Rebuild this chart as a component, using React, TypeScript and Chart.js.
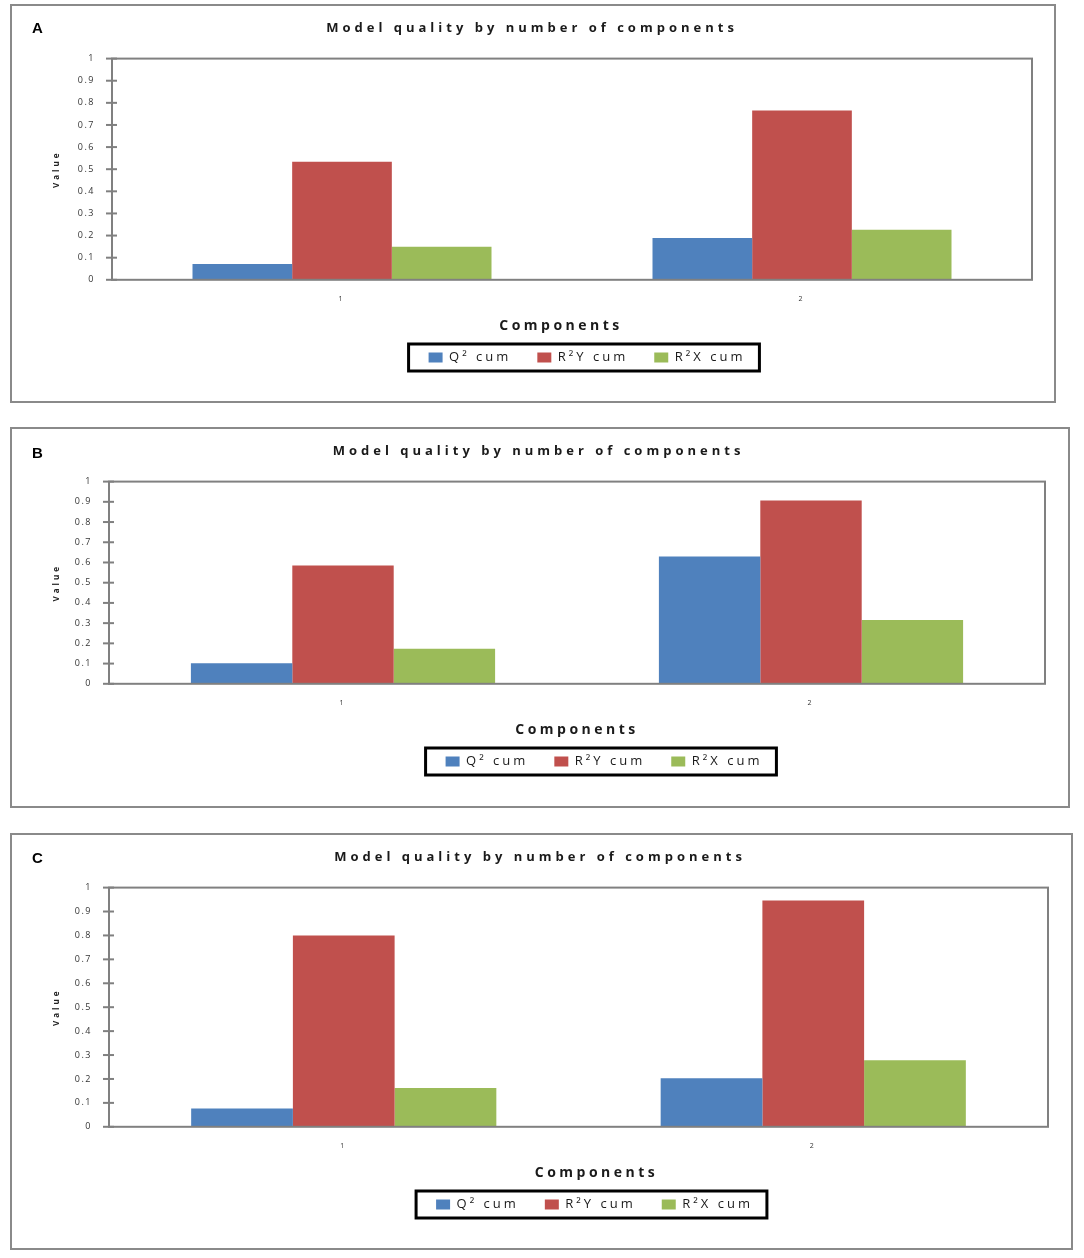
import { useEffect, useRef } from "react";
import { Chart, registerables } from "chart.js";

Chart.register(...registerables);

// categories and series
const components = ["1", "2"];
const seriesNames = ["Q² cum", "R²Y cum", "R²X cum"];
const seriesColors = ["#4F81BD", "#C0504D", "#9BBB59"];

// panel A
const q2CumA = [0.071, 0.189];
const r2yCumA = [0.534, 0.765];
const r2xCumA = [0.149, 0.226];
// panel B
const q2CumB = [0.102, 0.63];
const r2yCumB = [0.585, 0.906];
const r2xCumB = [0.173, 0.316];
// panel C
const q2CumC = [0.077, 0.203];
const r2yCumC = [0.8, 0.946];
const r2xCumC = [0.162, 0.278];

const yMin = 0;
const yMax = 1;
const yStep = 0.1;

const chartTitle = "Model quality by number of components";
const xTitle = "Components";
const yTitle = "Value";

const FONT = "'Open Sans', 'Liberation Sans', sans-serif";

type Panel = {
  letter: string;
  series: number[][];
  left: number;
  top: number;
  width: number;
  height: number;
  plotLeft: number;
  padRight: number;
  padBottom: number;
  letterTop: number;
  legendShift: number;
  xTitleShift: number;
};

const panels: Panel[] = [
  { letter: "A", series: [q2CumA, r2yCumA, r2xCumA], left: 10, top: 4, width: 1046, height: 399, plotLeft: 100, padRight: 22, padBottom: 27, letterTop: 19, legendShift: 15, xTitleShift: -11 },
  { letter: "B", series: [q2CumB, r2yCumB, r2xCumB], left: 10, top: 427, width: 1060, height: 381, plotLeft: 97, padRight: 23, padBottom: 28, letterTop: 444, legendShift: 27, xTitleShift: 0 },
  { letter: "C", series: [q2CumC, r2yCumC, r2xCumC], left: 10, top: 833, width: 1063, height: 417, plotLeft: 97, padRight: 23, padBottom: 27, letterTop: 849, legendShift: 16, xTitleShift: 18 },
];

function withSpacing(chart: any, obj: any, key: string, spacing: string, dx = 0) {
  const orig = obj[key];
  obj[key] = function (...args: any[]) {
    const c = chart.ctx;
    const prev = c.letterSpacing;
    c.save();
    c.translate(dx, 0);
    c.letterSpacing = spacing;
    const res = orig.apply(this, args);
    c.restore();
    c.letterSpacing = prev;
    return res;
  };
}

// letter spacing, plot frame, crossing y ticks, legend frame
const decorPlugin = {
  id: "decor",
  beforeLayout(chart: any) {
    chart.ctx.letterSpacing = "3px";
  },
  afterLayout(chart: any, _args: any, opts: any) {
    const tb = chart.titleBlock;
    if (tb && !tb.__ls) {
      withSpacing(chart, tb, "draw", "4px", 10);
      tb.__ls = true;
    }
    const xs = chart.scales.x;
    if (xs && !xs.__ls) {
      withSpacing(chart, xs, "drawTitle", "3.5px", opts.xTitleShift || 0);
      xs.__ls = true;
    }
    const ys = chart.scales.y;
    if (ys && !ys.__ls) {
      withSpacing(chart, ys, "drawLabels", "1.5px");
      ys.__ls = true;
    }
    const lg = chart.legend;
    const shift = opts.legendShift || 0;
    if (lg) {
      lg.left += shift;
      lg.right += shift;
    }
  },
  beforeDraw(chart: any) {
    chart.ctx.letterSpacing = "3px";
  },
  afterDatasetsDraw(chart: any) {
    const { ctx, chartArea: a, scales } = chart;
    ctx.save();
    ctx.strokeStyle = "#808080";
    ctx.lineWidth = 2;
    ctx.strokeRect(a.left, a.top, a.right - a.left, a.bottom - a.top);
    const y = scales.y;
    y.ticks.forEach((_: any, i: number) => {
      const py = y.getPixelForTick(i);
      ctx.beginPath();
      ctx.moveTo(a.left - 6, py);
      ctx.lineTo(a.left + 5, py);
      ctx.stroke();
    });
    ctx.restore();
  },
  afterDraw(chart: any) {
    const boxes = chart.legend?.legendHitBoxes;
    if (!boxes || !boxes.length) return;
    const l = Math.min(...boxes.map((b: any) => b.left));
    const r = Math.max(...boxes.map((b: any) => b.left + b.width));
    const t = Math.min(...boxes.map((b: any) => b.top));
    const btm = Math.max(...boxes.map((b: any) => b.top + b.height));
    const ctx = chart.ctx;
    ctx.save();
    ctx.strokeStyle = "#000";
    ctx.lineWidth = 3;
    ctx.strokeRect(l - 20, t - 7, r - l + 34, btm - t + 14);
    ctx.restore();
  },
};

function PanelChart({ panel }: { panel: Panel }) {
  const canvasRef = useRef<HTMLCanvasElement | null>(null);
  const cw = panel.width - 4;
  const ch = panel.height - 4;

  useEffect(() => {
    if (!canvasRef.current) return;
    const chart = new Chart(canvasRef.current, {
      type: "bar",
      data: {
        labels: components,
        datasets: seriesNames.map((name, i) => ({
          label: name,
          data: panel.series[i],
          backgroundColor: seriesColors[i],
          borderWidth: 0,
          barPercentage: 1,
          categoryPercentage: 0.65,
        })),
      },
      options: {
        responsive: false,
        animation: false,
        devicePixelRatio: 1,
        layout: {
          padding: { left: 0, right: panel.padRight, top: 0, bottom: panel.padBottom },
        },
        plugins: {
          decor: { legendShift: panel.legendShift, xTitleShift: panel.xTitleShift },
          title: {
            display: true,
            text: chartTitle,
            color: "#1a1a1a",
            font: { family: FONT, size: 13 },
            padding: { top: 14, bottom: 23 },
          },
          legend: {
            display: true,
            position: "bottom",
            fullSize: false,
            labels: {
              color: "#1a1a1a",
              font: { family: FONT, size: 13 },
              boxWidth: 14,
              boxHeight: 10,
              padding: 26,
            },
          },
          tooltip: { enabled: false },
        } as any,
        scales: {
          x: {
            grid: { display: false, drawTicks: false },
            border: { display: false },
            ticks: {
              color: "#333",
              font: { family: FONT, size: 7 },
              padding: 15,
            },
            title: {
              display: true,
              text: xTitle,
              color: "#1a1a1a",
              font: { family: FONT, size: 14, weight: "bold" },
              padding: { top: -1, bottom: -9 },
            },
          },
          y: {
            min: yMin,
            max: yMax,
            grid: { display: false, drawTicks: false },
            border: { display: false },
            ticks: {
              stepSize: yStep,
              color: "#333",
              font: { family: FONT, size: 9 },
              padding: 17,
              callback: (v: any) => String(Number(Number(v).toFixed(1))),
            },
            title: {
              display: true,
              text: yTitle,
              color: "#222",
              font: { family: FONT, size: 8, weight: "bold" },
              padding: { top: 40, bottom: 0 },
            },
            afterFit: (scale: any) => {
              scale.width = panel.plotLeft;
            },
          },
        },
      },
      plugins: [decorPlugin],
    });
    return () => {
      chart.destroy();
    };
  }, [panel]);

  return (
    <>
      <div
        style={{
          position: "absolute",
          left: panel.left,
          top: panel.top,
          width: panel.width,
          height: panel.height,
          boxSizing: "border-box",
          border: "2px solid #8a8a8a",
          background: "#fff",
        }}
      >
        <canvas ref={canvasRef} width={cw} height={ch} style={{ display: "block", width: cw, height: ch }} />
      </div>
      <div
        style={{
          position: "absolute",
          left: 32,
          top: panel.letterTop,
          font: "bold 15px 'Liberation Sans', Arial, sans-serif",
          color: "#000",
        }}
      >
        {panel.letter}
      </div>
    </>
  );
}

export default function App() {
  return (
    <div style={{ position: "absolute", left: 0, top: 0, width: 1084, height: 1258, background: "#fff" }}>
      {panels.map((p) => (
        <PanelChart key={p.letter} panel={p} />
      ))}
    </div>
  );
}
